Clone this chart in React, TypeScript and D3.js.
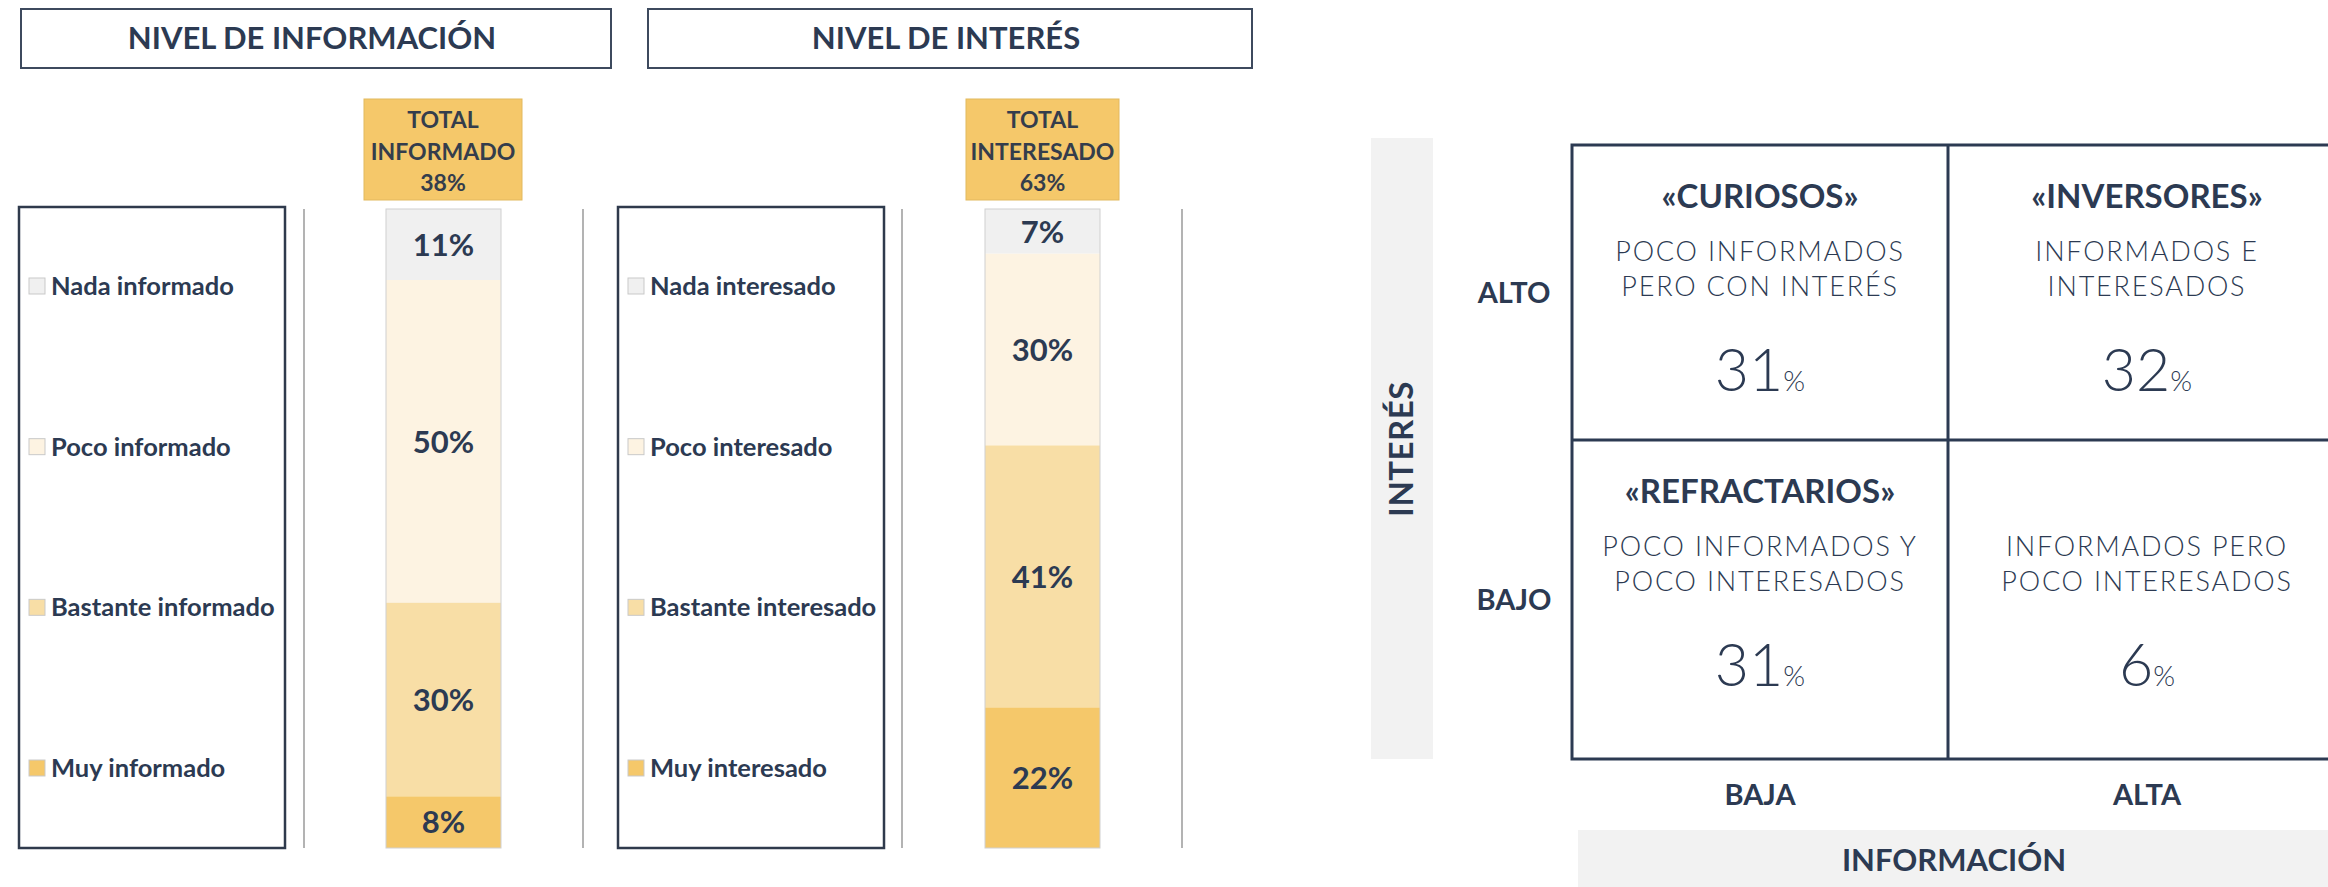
import { useEffect } from "react";
import * as d3 from "d3";

// ---- data ----
const infoCategories = ["Nada informado", "Poco informado", "Bastante informado", "Muy informado"];
const infoValues = [11, 50, 30, 8];
const infoTotal = 38;

const interestCategories = ["Nada interesado", "Poco interesado", "Bastante interesado", "Muy interesado"];
const interestValues = [7, 30, 41, 22];
const interestTotal = 63;

const segmentColors = ["#f0f0f0", "#fdf3e2", "#f8dea6", "#f5c86a"];

const matrixRows = ["ALTO", "BAJO"];
const matrixCols = ["BAJA", "ALTA"];
const matrixTitles = [
	["«CURIOSOS»", "«INVERSORES»"],
	["«REFRACTARIOS»", ""],
];
const matrixDescriptions = [
	[["POCO INFORMADOS", "PERO CON INTERÉS"], ["INFORMADOS E", "INTERESADOS"]],
	[["POCO INFORMADOS Y", "POCO INTERESADOS"], ["INFORMADOS PERO", "POCO INTERESADOS"]],
];
const matrixValues = [
	[31, 32],
	[31, 6],
];

const NAVY = "#2c3a52";
const FONT = "Lato, 'Open Sans', sans-serif";

// layout of the two stacked-bar panels
const panels = [
	{
		title: "NIVEL DE INFORMACIÓN",
		totalLabel: ["TOTAL", "INFORMADO"],
		total: infoTotal,
		categories: infoCategories,
		values: infoValues,
		titleBox: [21, 611],
		legendBox: [19, 285],
		lines: [304, 583],
		bar: [386, 501],
		totalBox: [364, 522],
	},
	{
		title: "NIVEL DE INTERÉS",
		totalLabel: ["TOTAL", "INTERESADO"],
		total: interestTotal,
		categories: interestCategories,
		values: interestValues,
		titleBox: [648, 1252],
		legendBox: [618, 884],
		lines: [902, 1182],
		bar: [985, 1100],
		totalBox: [966, 1119],
	},
];

function BarPanel({ p }) {
	const top = 209;
	const bottom = 848;
	const y = d3.scaleLinear().domain([0, d3.sum(p.values)]).range([top, bottom]);
	const cum = [0, ...d3.cumsum(p.values)];
	const legendY = d3.scalePoint().domain(p.categories).range([286, 768]);
	const barW = p.bar[1] - p.bar[0];
	const barCx = (p.bar[0] + p.bar[1]) / 2;
	const totCx = (p.totalBox[0] + p.totalBox[1]) / 2;

	return (
		<g>
			{/* title box */}
			<rect x={p.titleBox[0]} y={9} width={p.titleBox[1] - p.titleBox[0]} height={59} fill="#fff" stroke="#3d4a5e" strokeWidth={2} />
			<text x={(p.titleBox[0] + p.titleBox[1]) / 2 - 4} y={49} textAnchor="middle" fontSize={31} fontWeight={700} fill={NAVY}>
				{p.title}
			</text>

			{/* total box */}
			<rect x={p.totalBox[0]} y={99} width={p.totalBox[1] - p.totalBox[0]} height={101} fill="#f5c86a" stroke="#e2b95e" strokeWidth={1} />
			<text textAnchor="middle" fontSize={23} fontWeight={700} fill="#343d4c">
				<tspan x={totCx} y={128}>{p.totalLabel[0]}</tspan>
				<tspan x={totCx} y={160}>{p.totalLabel[1]}</tspan>
				<tspan x={totCx} y={191}>{p.total}%</tspan>
			</text>

			{/* legend */}
			<rect x={p.legendBox[0]} y={207} width={p.legendBox[1] - p.legendBox[0]} height={641} fill="#fff" stroke="#2f3a4c" strokeWidth={2.5} />
			{p.categories.map((c, i) => (
				<g key={c}>
					<rect x={p.legendBox[0] + 10} y={legendY(c) - 8} width={16} height={16} fill={segmentColors[i]} stroke="#c9c9c9" strokeWidth={1} />
					<text x={p.legendBox[0] + 32} y={legendY(c)} dy="0.35em" fontSize={25.5} fontWeight={700} fill={NAVY}>
						{c}
					</text>
				</g>
			))}

			{/* separators */}
			{p.lines.map((lx) => (
				<line key={lx} x1={lx} x2={lx} y1={top} y2={bottom} stroke="#9a9a9a" strokeWidth={1.5} />
			))}

			{/* stacked bar */}
			{p.values.map((v, i) => (
				<rect key={i} x={p.bar[0]} y={y(cum[i])} width={barW} height={y(cum[i + 1]) - y(cum[i])} fill={segmentColors[i]} />
			))}
			<rect x={p.bar[0]} y={top} width={barW} height={bottom - top} fill="none" stroke="#d0d0d0" strokeWidth={1} />
			{p.values.map((v, i) => (
				<text key={"l" + i} x={barCx} y={(y(cum[i]) + y(cum[i + 1])) / 2} dy="0.36em" textAnchor="middle" fontSize={31} fontWeight={700} fill={NAVY}>
					{v}%
				</text>
			))}
		</g>
	);
}

function Matrix() {
	const colEdges = [1572, 1948, 2346];
	const rowEdges = [145, 440, 759];
	const colCenter = (i) => (colEdges[i] + colEdges[i + 1]) / 2;
	const rowCenter = (i) => (rowEdges[i] + rowEdges[i + 1]) / 2;

	return (
		<g>
			{/* INTERÉS band */}
			<rect x={1371} y={138} width={62} height={621} fill="#f2f2f2" />
			<text transform={`translate(1401,449) rotate(-90)`} textAnchor="middle" dy="0.35em" fontSize={33} fontWeight={700} letterSpacing={0.5} fill={NAVY}>
				INTERÉS
			</text>
			{matrixRows.map((r, i) => (
				<text key={r} x={1514} y={rowCenter(i)} dy="0.36em" textAnchor="middle" fontSize={29} fontWeight={700} fill={NAVY}>
					{r}
				</text>
			))}

			{/* grid */}
			<rect x={colEdges[0]} y={rowEdges[0]} width={colEdges[2] - colEdges[0]} height={rowEdges[2] - rowEdges[0]} fill="none" stroke={NAVY} strokeWidth={3} />
			<line x1={colEdges[1]} x2={colEdges[1]} y1={rowEdges[0]} y2={rowEdges[2]} stroke={NAVY} strokeWidth={3} />
			<line x1={colEdges[0]} x2={colEdges[2]} y1={rowEdges[1]} y2={rowEdges[1]} stroke={NAVY} strokeWidth={3} />

			{matrixRows.map((r, ri) =>
				matrixCols.map((c, ci) => {
					const cx = colCenter(ci);
					const t = rowEdges[ri];
					return (
						<g key={r + c}>
							{matrixTitles[ri][ci] && (
								<text x={cx} y={t + 63} textAnchor="middle" fontSize={33} fontWeight={700} fill={NAVY}>
									{matrixTitles[ri][ci]}
								</text>
							)}
							<text textAnchor="middle" fontSize={27} fontWeight={300} letterSpacing={1.8} fill={NAVY}>
								<tspan x={cx} y={t + 116}>{matrixDescriptions[ri][ci][0]}</tspan>
								<tspan x={cx} y={t + 151}>{matrixDescriptions[ri][ci][1]}</tspan>
							</text>
							<text x={cx} y={t + 246} textAnchor="middle" fontWeight={300} fill={NAVY}>
								<tspan fontSize={59}>{matrixValues[ri][ci]}</tspan>
								<tspan fontSize={28}>%</tspan>
							</text>
						</g>
					);
				}),
			)}

			{matrixCols.map((c, i) => (
				<text key={c} x={colCenter(i)} y={805} textAnchor="middle" fontSize={29} fontWeight={700} fill={NAVY}>
					{c}
				</text>
			))}

			{/* INFORMACIÓN band */}
			<rect x={1578} y={830} width={780} height={57} fill="#f2f2f2" />
			<text x={1954} y={871} textAnchor="middle" fontSize={31} fontWeight={700} fill={NAVY}>
				INFORMACIÓN
			</text>
		</g>
	);
}

export default function App() {
	useEffect(() => {
		document.body.style.margin = "0";
	}, []);

	return (
		<svg width={2328} height={887} style={{ display: "block", background: "#fff" }} fontFamily={FONT}>
			{panels.map((p) => (
				<BarPanel key={p.title} p={p} />
			))}
			<Matrix />
		</svg>
	);
}
